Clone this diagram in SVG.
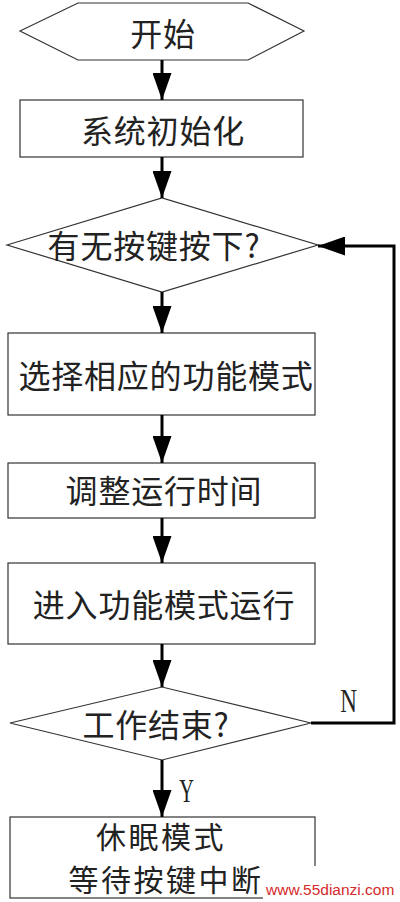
<svg xmlns="http://www.w3.org/2000/svg" width="400" height="902" viewBox="0 0 400 902">
<defs>
<style>
.shape{fill:#fff;stroke:#333;stroke-width:1.2}
.t{font-family:"Noto Sans CJK SC","Noto Sans CJK JP",sans-serif;font-size:32px;letter-spacing:0.8px;fill:#222;text-anchor:middle;dominant-baseline:central}
.t2{font-size:30px;letter-spacing:2.5px}
.lbl{font-family:"Liberation Serif",serif;font-size:34px;fill:#222;text-anchor:middle}
.conn{fill:none;stroke:#000;stroke-width:3}
.wm{font-family:"Liberation Sans",Arial,sans-serif;font-size:15.5px;fill:#d42a2a}
</style>
<marker id="ah" markerUnits="userSpaceOnUse" markerWidth="27" markerHeight="19" refX="27" refY="9.5" orient="auto">
<path d="M0,0 L27,9.5 L0,19 Z" fill="#000"/>
</marker>
</defs>
<rect width="400" height="902" fill="#fff"/>
<g id="start">
<polygon class="shape" points="20,31 78,3 248,3 304,31 248,60 78,60"/>
<text class="t" x="163" y="32">开始</text>
</g>
<g id="init">
<rect class="shape" x="20" y="100" width="283" height="57"/>
<text class="t" x="163" y="129">系统初始化</text>
</g>
<g id="keycheck">
<polygon class="shape" points="7,245 162,198 318,245 162,292"/>
<text class="t" x="154" y="244">有无按键按下?</text>
</g>
<g id="select">
<rect class="shape" x="8" y="333" width="307" height="82"/>
<text class="t" x="166" y="374">选择相应的功能模式</text>
</g>
<g id="adjust">
<rect class="shape" x="8" y="463" width="307" height="55"/>
<text class="t" x="164" y="489">调整运行时间</text>
</g>
<g id="run">
<rect class="shape" x="8" y="563" width="307" height="81"/>
<text class="t" x="164" y="603">进入功能模式运行</text>
</g>
<g id="endcheck">
<polygon class="shape" points="10,723 162,687 311,723 162,760"/>
<text class="t" x="156" y="723">工作结束?</text>
</g>
<g id="sleep">
<rect class="shape" x="10" y="817" width="305" height="81"/>
<text class="t t2" x="161" y="835">休眠模式</text>
<text class="t t2" x="166" y="878">等待按键中断</text>
</g>
<g id="connectors">
<line class="conn" x1="162" y1="60" x2="162" y2="100" marker-end="url(#ah)"/>
<line class="conn" x1="162" y1="157" x2="162" y2="198" marker-end="url(#ah)"/>
<line class="conn" x1="162" y1="292" x2="162" y2="333" marker-end="url(#ah)"/>
<line class="conn" x1="162" y1="415" x2="162" y2="463" marker-end="url(#ah)"/>
<line class="conn" x1="162" y1="518" x2="162" y2="563" marker-end="url(#ah)"/>
<line class="conn" x1="162" y1="644" x2="162" y2="687" marker-end="url(#ah)"/>
<line class="conn" x1="162" y1="760" x2="162" y2="817" marker-end="url(#ah)"/>
<polyline class="conn" points="311,723 394,723 394,246 318,246" marker-end="url(#ah)"/>
<text class="lbl" transform="translate(348.5,712) scale(0.68,1)">N</text>
<text class="lbl" transform="translate(186.5,802) scale(0.6,1)">Y</text>
</g>
<rect x="263" y="866" width="137" height="36" fill="#fff"/>
<text class="wm" x="266" y="895">www.55dianzi.com</text>
</svg>
